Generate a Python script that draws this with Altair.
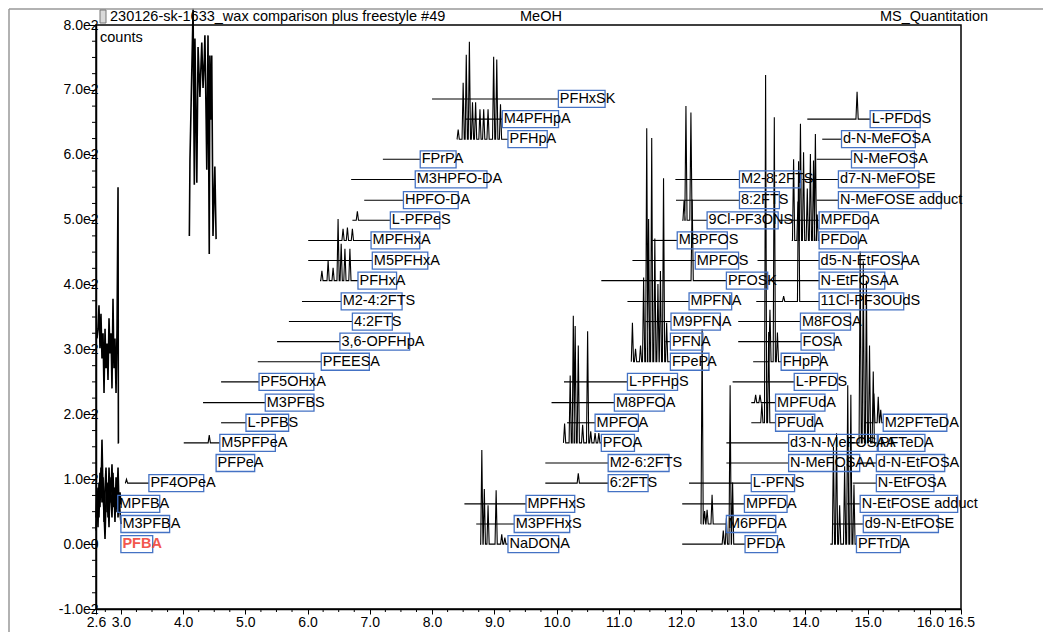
import altair as alt
import pandas as pd

# ---------------- data ----------------
label_names = [
    "PFBA", "M3PFBA", "MPFBA", "PF4OPeA", "PFPeA", "M5PFPeA", "L-PFBS", "M3PFBS", "PF5OHxA", "PFEESA",
    "3,6-OPFHpA", "4:2FTS", "M2-4:2FTS", "PFHxA", "M5PFHxA", "MPFHxA", "L-PFPeS", "HPFO-DA", "M3HPFO-DA",
    "FPrPA", "PFHpA", "M4PFHpA", "PFHxSK",
    "NaDONA", "M3PFHxS", "MPFHxS", "6:2FTS", "M2-6:2FTS", "PFOA", "MPFOA", "M8PFOA", "L-PFHpS", "FPePA",
    "PFNA", "M9PFNA", "MPFNA", "PFOSK", "MPFOS", "M8PFOS", "9Cl-PF3ONS", "8:2FTS", "M2-8:2FTS",
    "PFDA", "M6PFDA", "MPFDA", "L-PFNS", "N-MeFOSAA", "d3-N-MeFOSAA", "PFUdA", "MPFUdA", "L-PFDS", "FHpPA",
    "FOSA", "M8FOSA", "11Cl-PF3OUdS", "N-EtFOSAA", "d5-N-EtFOSAA", "PFDoA", "MPFDoA", "N-MeFOSE adduct",
    "d7-N-MeFOSE", "N-MeFOSA", "d-N-MeFOSA", "L-PFDoS",
    "PFTrDA", "d9-N-EtFOSE", "N-EtFOSE adduct", "N-EtFOSA", "d-N-EtFOSA", "PFTeDA", "M2PFTeDA",
]
label_base = (
    [0, 31, 62, 94, 125, 156, 187, 218, 250, 281, 312, 343, 374, 406, 437, 468, 499, 530, 562, 593, 624, 655, 686]
    + [0, 31, 62, 94, 125, 156, 187, 218, 250, 281, 312, 343, 374, 406, 437, 468, 499, 530, 562]
    + [0, 31, 62, 94, 125, 156, 187, 218, 250, 281, 312, 343, 374, 406, 437, 468, 499, 530, 562, 593, 624, 655]
    + [0, 31, 62, 94, 125, 156, 187]
)
line_start = (
    [3.00, 3.00, 2.95, 3.07, 4.53, 4.01, 4.61, 4.32, 4.61, 5.20, 5.51, 5.70, 5.91, 6.20, 6.01, 6.01, 6.72, 6.91,
     6.70, 7.21, 8.40, 8.53, 8.00]
    + [8.77, 8.71, 8.52, 9.82, 9.82, 10.12, 10.17, 9.92, 10.12, 11.22, 11.75, 11.43, 11.14, 10.72, 11.22, 11.54,
       12.02, 11.92, 11.91]
    + [12.02, 12.32, 12.02, 12.13, 12.73, 12.73, 13.13, 13.13, 12.83, 13.16, 12.92, 12.92, 13.21, 13.40, 13.23,
       13.78, 13.56, 14.18, 13.95, 14.18, 14.27, 14.03]
    + [14.40, 14.43, 14.67, 14.76, 14.85, 14.73, 14.95]
)
box_left = (
    [3.00, 3.00, 2.95, 3.45, 4.53, 4.59, 5.01, 5.32, 5.22, 6.22, 6.52, 6.72, 6.54, 6.81, 7.04, 7.02, 7.33, 7.54,
     7.73, 7.81, 9.22, 9.13, 10.03]
    + [9.22, 9.32, 9.51, 10.83, 10.83, 10.72, 10.62, 10.93, 11.14, 11.83, 11.83, 11.84, 12.13, 12.73, 12.23, 11.94,
       12.42, 12.94, 12.94]
    + [13.03, 12.73, 13.02, 13.13, 13.73, 13.73, 13.52, 13.52, 13.82, 13.61, 13.93, 13.92, 14.22, 14.22, 14.22,
       14.22, 14.22, 14.53, 14.53, 14.74, 14.58, 15.04]
    + [14.82, 14.93, 14.88, 15.14, 15.14, 15.17, 15.25]
)

# peaks: (retention time, height above the trace's baseline)
peak_data = {
    "PF4OPeA": [(3.09, 6)],
    "M5PFPeA": [(4.42, 12)],
    "PFHxA": [(6.23, 15), (6.33, 31), (6.41, 20), (6.49, 95), (6.54, 57), (6.60, 49), (6.68, 49)],
    "MPFHxA": [(6.57, 18), (6.64, 20), (6.72, 18)],
    "L-PFPeS": [(6.80, 14)],
    "PFHpA": [(8.42, 15), (8.50, 87), (8.55, 130), (8.60, 150), (8.65, 57), (8.70, 57), (8.77, 46), (8.83, 46),
              (8.90, 46), (8.99, 127), (9.04, 123), (9.10, 54)],
    "NaDONA": [(8.80, 145), (8.84, 85), (8.90, 60), (9.03, 83), (9.12, 15), (9.17, 10)],
    "6:2FTS": [(10.35, 15)],
    "PFOA": [(10.13, 30), (10.22, 104), (10.27, 196), (10.30, 180), (10.35, 150), (10.42, 28), (10.50, 172),
             (10.55, 18), (10.62, 15), (10.68, 15)],
    "FPePA": [(11.22, 60), (11.27, 20), (11.35, 25), (11.40, 130), (11.45, 360), (11.48, 220), (11.53, 345),
              (11.58, 190), (11.63, 120), (11.67, 140), (11.72, 283), (11.77, 60)],
    "9Cl-PF3ONS": [(12.05, 30), (12.08, 176), (12.16, 166)],
    "PFOSK": [(12.18, 125)],
    "M6PFDA": [(12.34, 300), (12.38, 20), (12.42, 22), (12.50, 45)],
    "PFDA": [(12.68, 21), (12.73, 40), (12.79, 245), (12.83, 95)],
    "PFUdA": [(13.30, 30), (13.36, 536), (13.41, 140)],
    "MPFUdA": [(13.20, 12), (13.27, 12)],
    "FHpPA": [(13.43, 80), (13.50, 377), (13.55, 45)],
    "11Cl-PF3OUdS": [(13.65, 8), (13.89, 216)],
    "PFDoA": [(13.81, 125), (13.88, 60), (13.92, 180), (13.97, 136), (14.03, 80), (14.08, 133), (14.13, 123),
              (14.16, 164), (14.19, 40)],
    "L-PFDoS": [(14.83, 42)],
    "PFTrDA": [(14.45, 150), (14.50, 171), (14.55, 60), (14.63, 120), (14.68, 245), (14.73, 230), (14.78, 92)],
    "PFTeDA": [(14.88, 295), (14.93, 280), (14.98, 250), (15.03, 150), (15.09, 110)],
    "M2PFTeDA": [(15.10, 45), (15.17, 40), (15.21, 20)],
}

# raw noisy traces at the start of the run
noise_rt = [2.600, 2.616, 2.632, 2.648, 2.664, 2.680, 2.696, 2.713, 2.729, 2.745, 2.761, 2.777, 2.793,
            2.809, 2.825, 2.841, 2.857, 2.873, 2.889, 2.905, 2.922, 2.938, 2.954, 2.970, 2.986, 3.002]
noise_a = [21, 57, 87, 41, 110, 72, 161, 80, 49, 8, 72, 95, 41, 118, 64, 80, 123, 57, 87, 34, 103, 72, 118,
           57, 80, 61]
noise_b = [41, 80, 26, 95, 57, 118, 64, 103, 34, 87, 118, 49, 80, 26, 103, 72, 41, 110, 64, 87, 49, 95, 41,
           72, 49, 31]
mid_noise_rt = [2.616, 2.632, 2.648, 2.664, 2.680, 2.696, 2.713, 2.729, 2.745, 2.761, 2.777, 2.793, 2.809,
                2.825, 2.841, 2.857, 2.873, 2.889, 2.905, 2.922, 2.938, 2.954, 2.960, 2.966]
mid_noise = [317, 332, 368, 302, 355, 286, 325, 233, 332, 271, 309, 253, 348, 294, 325, 240, 378, 271, 317,
             233, 332, 550, 156, 156]
high_noise_rt = [4.10, 4.11, 4.16, 4.18, 4.19, 4.22, 4.24, 4.27, 4.29, 4.30, 4.32, 4.34, 4.35, 4.37, 4.38,
                 4.40, 4.42, 4.43, 4.45, 4.46, 4.48, 4.51, 4.53]
high_noise = [475, 593, 825, 554, 779, 557, 766, 689, 746, 773, 703, 746, 784, 654, 577, 784, 447, 753, 654,
              753, 475, 582, 470]

# axis tick values
x_major_ticks = [2.6, 3.0, 4.0, 5.0, 6.0, 7.0, 8.0, 9.0, 10.0, 11.0, 12.0, 13.0, 14.0, 15.0, 16.0, 16.5]
y_major_ticks = [-100, 0, 100, 200, 300, 400, 500, 600, 700, 800]

# ---------------- build tables ----------------
W = 0.018
rows = []
for n, b, s, bx in zip(label_names, label_base, line_start, box_left):
    pk = sorted(peak_data.get(n, []))
    if not pk and abs(bx - s) < 1e-9:
        continue
    if pk:
        s = min(s, pk[0][0] - W)
    pts = [(s, b)]
    for rt, h in pk:
        pts += [(rt - W, b), (rt, b + h), (rt + W, b)]
    pts.append((bx, b))
    for i, (x, y) in enumerate(pts):
        rows.append({"comp": n, "seq": i, "rt": x, "counts": y, "w": 1.1})
for key, xs_, ys_ in [("noise_a", noise_rt, noise_a), ("noise_b", noise_rt, noise_b),
                      ("mid_noise", mid_noise_rt, mid_noise), ("high_noise", high_noise_rt, high_noise)]:
    for i, (x, y) in enumerate(zip(xs_, ys_)):
        rows.append({"comp": key, "seq": i, "rt": x, "counts": y, "w": 1.6})
traces = pd.DataFrame(rows)

x_minor = pd.DataFrame({"v": [2.75 + 0.25 * i for i in range(55) if (2.75 + 0.25 * i) % 1 != 0]})
y_minor = pd.DataFrame({"v": [-75 + 25 * i for i in range(35) if (-75 + 25 * i) % 100 != 0]})

CW = {'A': 667, 'B': 667, 'C': 722, 'D': 722, 'E': 667, 'F': 611, 'G': 778, 'H': 722, 'I': 278, 'K': 667,
      'L': 556, 'M': 833, 'N': 722, 'O': 778, 'P': 667, 'R': 722, 'S': 667, 'T': 611, 'U': 722, 'X': 667,
      'a': 556, 'c': 500, 'd': 556, 'e': 556, 'l': 222, 'o': 556, 'p': 556, 'r': 333, 't': 278, 'u': 556,
      'x': 500, '-': 333, ':': 278, ',': 278, ' ': 278}
FS = 14.5
PLOT_W, PLOT_H = 865, 584
PX_PER_MIN = PLOT_W / 13.9
PX_PER_COUNT = PLOT_H / 900


def box_width_min(t):
    w = sum(CW.get(c, 556) for c in t) * FS / 1000 * 0.84
    return w / PX_PER_MIN


half_h = 8.5 / PX_PER_COUNT
labels = pd.DataFrame({"name": label_names, "base": label_base, "box": box_left})
labels["box_end"] = labels["box"] + labels["name"].map(box_width_min)
labels["y1"] = labels["base"] - half_h
labels["y2"] = labels["base"] + half_h
normal = labels[labels["name"] != "PFBA"]
red = labels[labels["name"] == "PFBA"]

# ---------------- chart ----------------
xs = alt.Scale(domain=[2.6, 16.5], nice=False, zero=False)
ys = alt.Scale(domain=[-100, 800], nice=False, zero=False)
FONT = "Liberation Sans"

x_axis = alt.Axis(
    values=x_major_ticks, format=".1f", tickSize=5,
    labelOverlap=False, labelFlush=False, grid=False, title=None,
    labelFont=FONT, labelFontSize=14, labelColor="black", labelPadding=1,
    domainColor="black", domainWidth=1.5, tickColor="black", tickWidth=1,
)
y_axis = alt.Axis(
    values=y_major_ticks,
    labelExpr="replace(replace(format(datum.value, '.1e'), '+', ''), '\u2212', '-')",
    tickSize=7,
    labelOverlap=False, labelFlush=False, grid=False, title=None,
    labelFont=FONT, labelFontSize=14, labelColor="black", labelPadding=-9,
    domainColor="black", domainWidth=1.5, tickColor="black", tickWidth=1,
)

trace_layer = alt.Chart(traces).mark_line(color="black", strokeJoin="miter").encode(
    x=alt.X("rt:Q", scale=xs, axis=x_axis),
    y=alt.Y("counts:Q", scale=ys, axis=y_axis),
    strokeWidth=alt.StrokeWidth("w:Q", scale=None),
    detail="comp:N",
    order="seq:Q",
)

x_minor_layer = alt.Chart(x_minor).mark_rule(color="black", strokeWidth=1).encode(
    x=alt.X("v:Q", scale=xs, title=None),
    y=alt.value(PLOT_H),
    y2=alt.value(PLOT_H + 3),
)
y_minor_layer = alt.Chart(y_minor).mark_rule(color="black", strokeWidth=1).encode(
    y=alt.Y("v:Q", scale=ys, title=None),
    x=alt.value(-4),
    x2=alt.value(0),
)

box_layer = alt.Chart(labels).mark_rect(fill="transparent", stroke="#4472C4", strokeWidth=1.3).encode(
    x=alt.X("box:Q", scale=xs, title=None),
    x2="box_end:Q",
    y=alt.Y("y1:Q", scale=ys, title=None),
    y2="y2:Q",
)

text_layer = alt.Chart(normal).mark_text(
    align="left", baseline="middle", dx=1.5, font=FONT, fontSize=FS, color="black"
).encode(
    x=alt.X("box:Q", scale=xs, title=None),
    y=alt.Y("base:Q", scale=ys, title=None),
    text="name:N",
)

red_layer = alt.Chart(red).mark_text(
    align="left", baseline="middle", dx=1.5, font=FONT, fontSize=FS, fontWeight="bold", color="#F2574D"
).encode(
    x=alt.X("box:Q", scale=xs, title=None),
    y=alt.Y("base:Q", scale=ys, title=None),
    text="name:N",
)

one = pd.DataFrame({"a": [0]})


def header(txt, px, py, size=14.5, color="black"):
    return alt.Chart(one).mark_text(
        text=txt, align="left", baseline="middle", font=FONT, fontSize=size, color=color
    ).encode(x=alt.value(px), y=alt.value(py))


title_txt = header("230126-sk-1633_wax comparison plus freestyle #49", 14, -8)
meoh_txt = header("MeOH", 424, -8)
msq_txt = header("MS_Quantitation", 784, -8)
counts_txt = header("counts", 4, 13)

icon = alt.Chart(one).mark_rect(fill="#d9d9d9", stroke="#777777", strokeWidth=1).encode(
    x=alt.value(4), x2=alt.value(10), y=alt.value(-15), y2=alt.value(-2)
)
top_rule = alt.Chart(one).mark_rule(color="#999999", strokeWidth=1.5).encode(
    x=alt.value(-87), x2=alt.value(947), y=alt.value(-16)
)
left_rule = alt.Chart(one).mark_rule(color="#999999", strokeWidth=1.5).encode(
    x=alt.value(-87), y=alt.value(-16), y2=alt.value(607)
)

chart = alt.layer(
    trace_layer, x_minor_layer, y_minor_layer, box_layer, text_layer, red_layer,
    top_rule, left_rule, icon, title_txt, meoh_txt, msq_txt, counts_txt,
).properties(
    width=PLOT_W, height=PLOT_H,
    autosize=alt.AutoSizeParams(type="none"),
    padding={"left": 88, "top": 17, "right": 1036 - 88 - PLOT_W, "bottom": 624 - 17 - PLOT_H},
    background="white",
).configure_view(stroke="black", strokeWidth=1.5)

chart.save("out.html", embed_options={"renderer": "svg", "actions": False})
